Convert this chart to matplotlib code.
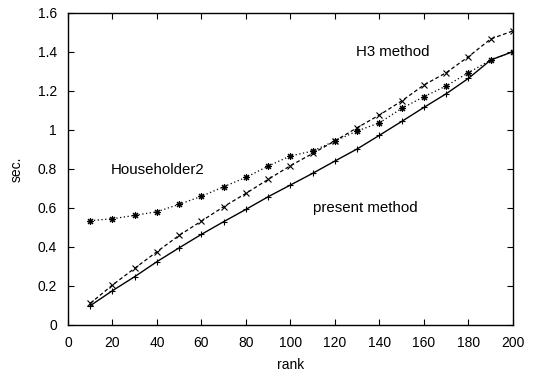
import matplotlib
matplotlib.use("Agg")
import matplotlib.pyplot as plt

plt.rcParams['font.family'] = ['Liberation Sans', 'DejaVu Sans']
plt.rcParams['font.size'] = 10

rank = [10, 20, 30, 40, 50, 60, 70, 80, 90, 100, 110, 120, 130, 140, 150, 160, 170, 180, 190, 200]

# present method (solid)
present = [0.099, 0.176, 0.248, 0.325, 0.396, 0.465, 0.530, 0.593, 0.658, 0.718,
           0.778, 0.841, 0.903, 0.973, 1.044, 1.116, 1.186, 1.265, 1.359, 1.402]
# H3 method (dashed)
h3 = [0.111, 0.205, 0.291, 0.376, 0.460, 0.533, 0.607, 0.675, 0.747, 0.817,
      0.880, 0.944, 1.012, 1.077, 1.149, 1.231, 1.294, 1.376, 1.467, 1.508]
# Householder2 (dotted)
householder = [0.535, 0.545, 0.562, 0.581, 0.619, 0.660, 0.709, 0.757, 0.815, 0.867,
               0.892, 0.944, 0.995, 1.037, 1.111, 1.171, 1.226, 1.294, 1.359, 1.402]

fig = plt.figure(figsize=(5.37, 3.71), dpi=100)
ax = fig.add_axes([0.1266, 0.124, 0.8287, 0.841])

ax.plot(rank, present, color='black', linewidth=1, linestyle='-',
        marker='+', markersize=5, markeredgewidth=0.8)
ax.plot(rank, h3, color='black', linewidth=0.9, linestyle=(0, (3, 2)),
        marker='x', markersize=5, markeredgewidth=0.8)
ax.plot(rank, householder, color='black', linewidth=0.9, linestyle=(0, (1, 2)),
        marker=(8, 2, 0), markersize=5, markeredgewidth=0.8)

ax.text(146, 1.40, "H3 method", ha='center', va='center', fontsize=10.8)
ax.text(40.5, 0.795, "Householder2", ha='center', va='center', fontsize=10.8)
ax.text(133.5, 0.60, "present method", ha='center', va='center', fontsize=10.8)

ax.set_xlim(0, 200)
ax.set_ylim(0, 1.6)
ax.set_xticks(range(0, 201, 20))
ax.set_yticks([0, 0.2, 0.4, 0.6, 0.8, 1, 1.2, 1.4, 1.6])
ax.set_yticklabels(['0', '0.2', '0.4', '0.6', '0.8', '1', '1.2', '1.4', '1.6'])
ax.tick_params(direction='in', top=True, right=True, length=4, width=0.8)
ax.tick_params(axis='x', pad=8)
ax.tick_params(axis='y', pad=8)
for s in ax.spines.values():
    s.set_linewidth(1)

ax.set_xlabel("rank", labelpad=6)
ax.set_ylabel("sec.", labelpad=10)

fig.savefig("out.png", dpi=100)
